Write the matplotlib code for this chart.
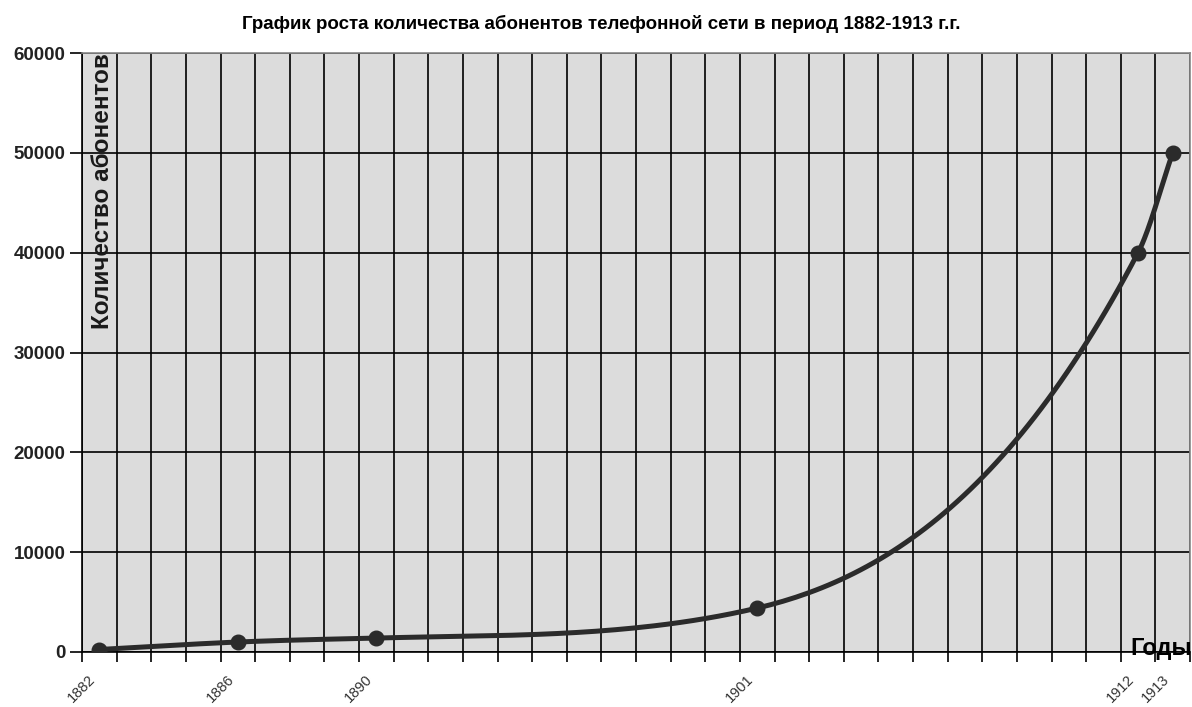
import numpy as np
import matplotlib.pyplot as plt
from matplotlib.ticker import MultipleLocator, NullFormatter
from matplotlib.transforms import ScaledTranslation

# данные: годы и число абонентов
years = [1882, 1886, 1890, 1901, 1912, 1913]
subscribers = [250, 1000, 1400, 4400, 40000, 50000]
tick_years = [1882, 1886, 1890, 1901, 1912, 1913]

plt.rcParams['font.family'] = ['Liberation Sans', 'DejaVu Sans']

fig = plt.figure(figsize=(11.92, 7.07), dpi=100)
ax = fig.add_axes([82 / 1192, 1 - 652 / 707, 1108 / 1192, 599 / 707])
ax.set_facecolor('#dcdcdc')

# сглаженная линия: монотонный кубический сплайн (Фрич-Карлсон)
x = np.array(years, dtype=float)
y = np.array(subscribers, dtype=float)
sec = np.diff(y) / np.diff(x)
m = np.concatenate([[sec[0]], (sec[:-1] + sec[1:]) / 2, [sec[-1]]])
for i in range(len(sec)):
    a, b = m[i] / sec[i], m[i + 1] / sec[i]
    r = a * a + b * b
    if r > 9:
        tau = 3 / np.sqrt(r)
        m[i], m[i + 1] = tau * a * sec[i], tau * b * sec[i]
xs, ys = [], []
for i in range(len(x) - 1):
    h = x[i + 1] - x[i]
    t = np.linspace(0, 1, 60)
    h00 = 2 * t**3 - 3 * t**2 + 1
    h10 = t**3 - 2 * t**2 + t
    h01 = -2 * t**3 + 3 * t**2
    h11 = t**3 - t**2
    xs.append(x[i] + t * h)
    ys.append(h00 * y[i] + h10 * h * m[i] + h01 * y[i + 1] + h11 * h * m[i + 1])
ax.plot(np.concatenate(xs), np.concatenate(ys), color='#2b2b2b', lw=3.6,
        solid_capstyle='round', zorder=3)
ax.plot(years, subscribers, 'o', color='#2b2b2b', ms=10.5, zorder=4)

ax.set_xlim(1881.5, 1913.5)
ax.set_ylim(0, 60000)

ax.yaxis.set_major_locator(MultipleLocator(10000))
ax.set_xticks(tick_years)
ax.xaxis.set_major_formatter(NullFormatter())
ax.set_xticks(np.arange(1881.5, 1914, 1.0), minor=True)
ax.tick_params(axis='x', which='major', length=0)
ax.tick_params(axis='x', which='minor', length=7, width=1.2, direction='out')
ax.tick_params(axis='y', length=9, width=1.2, direction='out', labelsize=13.5, pad=3)
for lab in ax.get_yticklabels():
    lab.set_fontweight('bold')
    lab.set_color('#222222')

# подписи годов под осью, повернутые на 45 градусов
off = ax.get_xaxis_transform() + ScaledTranslation(-6 / 100, -25 / 100, fig.dpi_scale_trans)
for yr in tick_years:
    ax.text(yr, 0, str(yr), transform=off, rotation=45, ha='right', va='center',
            rotation_mode='anchor', fontsize=10.5, color='#333333', clip_on=False)

ax.grid(True, which='minor', axis='x', color='black', lw=1.2)
ax.grid(True, which='major', axis='y', color='black', lw=1.2)
ax.set_axisbelow(True)

for side in ['left', 'bottom']:
    ax.spines[side].set_color('black')
    ax.spines[side].set_linewidth(1.2)
for side in ['top', 'right']:
    ax.spines[side].set_color('#888888')
    ax.spines[side].set_linewidth(1.2)

fig.text(601 / 1192, 1 - 24 / 707,
         'График роста количества абонентов телефонной сети в период 1882-1913 г.г.',
         ha='center', va='center', fontsize=13.5, fontweight='bold')

ax.text(92 / 1192 - 82 / 1192, 1.0, 'Количество абонентов', transform=ax.transAxes,
        rotation=90, ha='left', va='top', fontsize=17.5, fontweight='bold',
        color='#1a1a1a')
fig.text(1.0, 1 - 648 / 707, 'Годы', ha='right', va='center',
         fontsize=17, fontweight='bold')

fig.savefig('out.png', dpi=100)
